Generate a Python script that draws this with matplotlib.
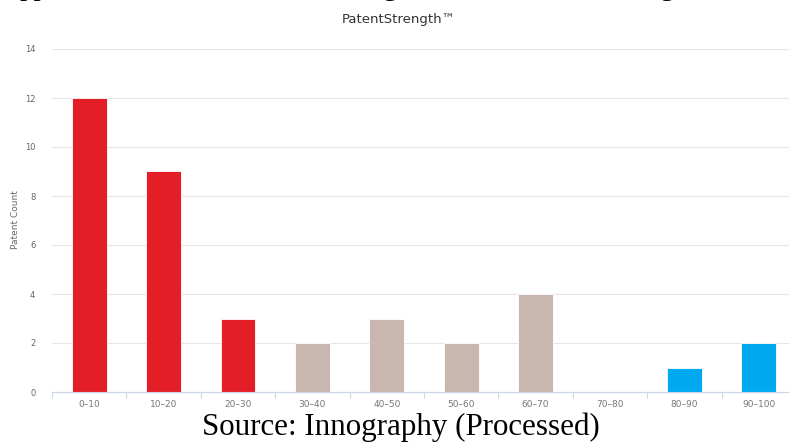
import matplotlib
matplotlib.use("Agg")
import matplotlib.pyplot as plt

categories = ["0-10", "10-20", "20-30", "30-40", "40-50",
              "50-60", "60-70", "70-80", "80-90", "90-100"]
counts = [12, 9, 3, 2, 3, 2, 4, 0, 1, 2]
colors = ["#e41e26", "#e41e26", "#e41e26", "#c9b6ae", "#c9b6ae",
          "#c9b6ae", "#c9b6ae", "#c9b6ae", "#00a9f0", "#00a9f0"]
y_ticks = [0, 2, 4, 6, 8, 10, 12, 14]

W, H = 789, 444
fig = plt.figure(figsize=(W / 100, H / 100), dpi=100)

# plot area in pixels: left 52, right 796 (runs past the edge), y0 at 392, y14 at 49
ax = fig.add_axes([52 / W, 1 - 392 / H, 744 / W, 343 / H])

x = list(range(len(categories)))
ax.bar(x, counts, width=0.47, color=colors, edgecolor="white", linewidth=0.6, zorder=3)

ax.set_xlim(-0.5, len(categories) - 0.5)
ax.set_ylim(0, 14)
ax.set_yticks(y_ticks)
ax.set_yticklabels([str(v) for v in y_ticks], fontsize=6, color="#666666")
ax.set_xticks(x)
ax.set_xticklabels([c.replace("-", "–") for c in categories],
                   fontsize=6.5, color="#777777")
ax.set_xticks([i - 0.5 for i in range(len(categories) + 1)], minor=True)

ax.tick_params(axis="y", length=0, pad=12)
ax.tick_params(axis="x", which="major", length=0, pad=6)
ax.tick_params(axis="x", which="minor", length=4, color="#ccd6eb", width=0.8)

ax.grid(axis="y", color="#e6e6e6", linewidth=0.8, zorder=0)
for s in ["top", "right", "left"]:
    ax.spines[s].set_visible(False)
ax.spines["bottom"].set_color("#ccd6eb")
ax.spines["bottom"].set_linewidth(0.8)
ax.spines["bottom"].set_zorder(4)

fig.text(16 / W, 1 - 220 / H, "Patent Count", rotation=90, fontsize=6.5,
         color="#666666", ha="center", va="center")

fig.text(399 / W, 1 - 20 / H, "PatentStrength™", fontsize=9.5, color="#333333",
         ha="center", va="center")

fig.text(401 / W, 1 - 427 / H, "Source: Innography (Processed)",
         family="Liberation Serif", fontsize=22.3, color="black",
         ha="center", va="center")

# bottoms of the cut-off line of text above the chart
for xp, frag in [(20, "pp"), (383, "g"), (660, "g")]:
    fig.text(xp / W, 1 + 5 / H, frag, family="Liberation Serif", fontsize=21,
             color="black", ha="left", va="baseline")

fig.savefig("out.png", dpi=100)
